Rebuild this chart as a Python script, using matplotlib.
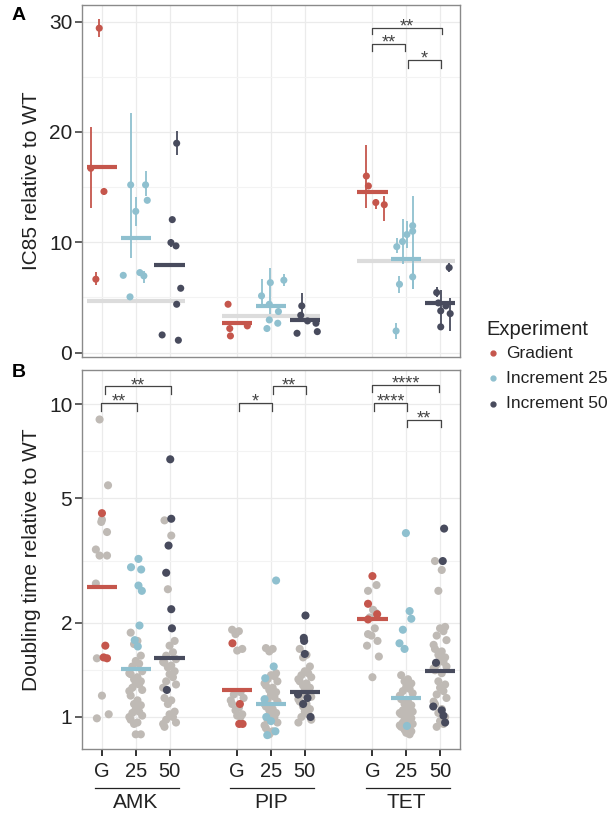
import numpy as np
import matplotlib.pyplot as plt
import matplotlib.transforms as mtransforms
from matplotlib.lines import Line2D

plt.rcParams['font.family'] = ['Liberation Sans', 'DejaVu Sans']

RED = '#c5564c'
BLUE = '#8fc0cf'
DARK = '#484b5d'
GREY_PT = '#bfbab5'
REF = '#dcdcdc'
GRID = '#ebebeb'
TXT = '#222222'

drugs = ['AMK', 'PIP', 'TET']
exp_labels = ['G', '25', '50']
exp_names = ['Gradient', 'Increment 25', 'Increment 50']
positions = [1, 2, 3, 5, 6, 7, 9, 10, 11]
colors = [RED, BLUE, DARK]

# ---------------- panel A : IC85 relative to WT ----------------
amk_g_ic = [29.4, 16.7, 14.6, 6.65]
amk_g_dx = [-0.08, -0.33, 0.06, -0.18]
amk_g_lo = [28.6, 13.1, 14.3, 6.1]
amk_g_hi = [30.2, 20.4, 14.9, 7.3]

amk_25_ic = [15.2, 12.8, 15.2, 13.8, 7.0, 7.25, 6.95, 5.05]
amk_25_dx = [-0.15, 0.0, 0.29, 0.34, -0.37, 0.12, 0.24, -0.17]
amk_25_lo = [8.6, 11.5, 14.2, 13.8, 7.0, 7.0, 6.35, 5.05]
amk_25_hi = [21.75, 14.1, 16.5, 13.8, 7.0, 7.45, 7.4, 5.05]

amk_50_ic = [18.97, 12.05, 9.97, 9.67, 5.83, 4.38, 1.6, 1.12]
amk_50_dx = [0.21, 0.08, 0.04, 0.19, 0.33, 0.21, -0.22, 0.26]
amk_50_lo = [17.9, 12.05, 9.6, 9.67, 5.83, 4.38, 1.6, 1.12]
amk_50_hi = [20.1, 12.05, 10.3, 9.67, 5.83, 4.38, 1.6, 1.12]

pip_g_ic = [4.38, 2.18, 1.51, 2.42]
pip_g_dx = [-0.27, -0.22, -0.2, 0.3]
pip_g_lo = [4.38, 2.18, 1.51, 2.42]
pip_g_hi = [4.38, 2.18, 1.51, 2.42]

pip_25_ic = [5.14, 6.34, 6.56, 4.38, 3.72, 2.96, 2.66, 2.18]
pip_25_dx = [-0.28, -0.02, 0.38, -0.05, 0.22, -0.05, 0.2, -0.12]
pip_25_lo = [4.4, 3.5, 6.04, 4.38, 3.72, 2.96, 2.66, 2.18]
pip_25_hi = [6.65, 7.7, 7.1, 4.38, 3.72, 2.96, 2.66, 2.18]

pip_50_ic = [4.23, 3.38, 2.87, 2.66, 1.75, 1.9]
pip_50_dx = [-0.09, -0.12, 0.08, 0.33, -0.23, 0.37]
pip_50_lo = [2.9, 3.38, 2.87, 2.66, 1.75, 1.9]
pip_50_hi = [5.4, 3.38, 2.87, 2.66, 1.75, 1.9]

tet_g_ic = [16.0, 15.1, 13.6, 13.4]
tet_g_dx = [-0.18, -0.12, 0.1, 0.35]
tet_g_lo = [13.1, 15.1, 13.0, 11.9]
tet_g_hi = [18.8, 15.1, 13.9, 14.2]

tet_25_ic = [9.6, 10.06, 10.7, 11.5, 11.0, 6.86, 6.19, 1.96]
tet_25_dx = [-0.28, -0.11, 0.02, 0.19, 0.19, 0.19, -0.2, -0.3]
tet_25_lo = [9.06, 8.0, 9.5, 5.74, 11.0, 5.74, 5.44, 1.2]
tet_25_hi = [10.4, 12.1, 11.9, 14.2, 11.0, 8.0, 6.95, 2.7]

tet_50_ic = [7.7, 5.44, 4.5, 3.78, 2.33, 4.23, 3.53]
tet_50_dx = [0.27, -0.1, -0.05, 0.02, 0.02, 0.17, 0.3]
tet_50_lo = [7.3, 5.05, 4.5, 2.3, 2.33, 4.23, 1.96]
tet_50_hi = [8.1, 5.9, 4.5, 5.7, 2.33, 4.23, 4.98]

ic_mean = [16.8, 10.42, 7.95, 2.66, 4.23, 2.93, 14.56, 8.52, 4.47]
ic_wt_line = [4.68, 3.32, 8.3]

# ---------------- panel B : doubling time relative to WT ----------------
amk_g_dt = [4.48, 1.69, 1.55, 1.54]
amk_g_ddx = [0.0, 0.1, 0.05, 0.15]
amk_g_bg = [8.93, 5.5, 4.27, 4.2, 3.9, 3.43, 3.28, 3.28, 2.67, 1.54, 1.17, 0.99, 1.02]
amk_g_bgdx = [-0.07, 0.18, 0.0, -0.02, 0.15, -0.18, -0.07, 0.15, -0.18, -0.15, 0.0, -0.15, 0.2]

amk_25_dt = [3.2, 3.01, 2.96, 2.63, 2.53, 1.96, 1.76, 1.68]
amk_25_ddx = [0.08, -0.14, 0.16, 0.08, 0.18, 0.11, -0.03, 0.06]
amk_25_bg = [1.86, 1.75, 1.71, 1.57, 1.51, 1.48, 1.45, 1.40, 1.38, 1.37, 1.34, 1.32,
             1.30, 1.28, 1.27, 1.24, 1.22, 1.21, 1.17, 1.13, 1.10, 1.09, 1.06, 1.04,
             1.03, 1.01, 1.00, 0.98, 0.96, 0.95, 0.88, 0.88]

amk_50_dt = [6.66, 4.3, 3.53, 2.89, 2.21, 1.92, 1.22]
amk_50_ddx = [0.02, 0.05, -0.03, -0.1, 0.05, 0.07, -0.08]
amk_50_bg = [4.25, 3.8, 2.56, 1.75, 1.69, 1.61, 1.57, 1.53, 1.50, 1.49, 1.46, 1.44,
             1.40, 1.37, 1.34, 1.30, 1.27, 1.24, 1.15, 1.13, 1.10, 1.04, 1.02, 1.00,
             0.98, 0.96, 0.95, 0.93]

pip_g_dt = [1.72, 1.10, 0.95, 0.95]
pip_g_ddx = [-0.14, 0.08, 0.06, 0.16]
pip_g_bg = [1.90, 1.88, 1.84, 1.65, 1.63, 1.20, 1.18, 1.15, 1.13, 1.10, 1.07, 1.05,
            1.02, 1.01, 1.00]

pip_25_dt = [2.73, 1.45, 1.33, 1.14, 1.0, 0.90, 0.875, 0.97]
pip_25_ddx = [0.15, 0.08, -0.17, -0.19, -0.14, 0.13, -0.11, 0.0]
pip_25_bg = [1.66, 1.65, 1.62, 1.38, 1.36, 1.35, 1.32, 1.30, 1.28, 1.26, 1.24, 1.22,
             1.20, 1.18, 1.16, 1.14, 1.12, 1.10, 1.08, 1.06, 1.05, 1.03, 1.01, 1.00,
             0.98, 0.96, 0.94, 0.92, 0.90, 0.88]

pip_50_dt = [2.11, 1.79, 1.75, 1.59, 1.18, 1.15, 1.10, 1.0]
pip_50_ddx = [0.02, -0.03, -0.02, 0.0, -0.2, 0.08, -0.05, 0.17]
pip_50_bg = [1.65, 1.58, 1.55, 1.45, 1.40, 1.38, 1.36, 1.34, 1.32, 1.30, 1.28, 1.26,
             1.24, 1.22, 1.20, 1.18, 1.16, 1.14, 1.12, 1.10, 1.08, 1.06, 1.04, 1.02,
             1.00, 0.98, 0.96]

tet_g_dt = [2.82, 2.30, 2.13, 2.05]
tet_g_ddx = [0.0, -0.13, 0.14, -0.13]
tet_g_bg = [2.64, 2.53, 2.2, 2.08, 1.92, 1.84, 1.82, 1.69, 1.56, 1.34, 2.15, 1.75]
tet_g_bgdx = [0.12, -0.13, 0.02, -0.08, 0.07, -0.13, -0.03, -0.16, 0.19, 0.0, 0.1, 0.15]

tet_25_dt = [3.87, 2.18, 2.06, 1.9, 1.72, 1.65, 0.936]
tet_25_ddx = [-0.01, 0.1, 0.15, -0.1, -0.2, -0.05, 0.02]
tet_25_bg = [1.36, 1.32, 1.30, 1.28, 1.25, 1.23, 1.21, 1.19, 1.17, 1.14, 1.12, 1.10,
             1.09, 1.07, 1.06, 1.05, 1.04, 1.03, 1.02, 1.01, 1.00, 0.99, 0.98, 0.97,
             0.96, 0.95, 0.94, 0.93, 0.92, 0.91, 0.90, 0.89, 0.88]

tet_50_dt = [4.0, 3.15, 1.49, 1.08, 1.05, 1.01, 0.96]
tet_50_ddx = [0.12, 0.08, -0.12, -0.2, 0.05, 0.1, 0.15]
tet_50_bg = [3.15, 2.95, 2.53, 1.94, 1.92, 1.88, 1.82, 1.76, 1.70, 1.65, 1.62, 1.58,
             1.55, 1.52, 1.50, 1.47, 1.45, 1.43, 1.41, 1.38, 1.30, 1.27, 1.24, 1.21,
             1.18, 1.15, 1.12, 1.10, 1.06, 1.03, 1.00, 0.97, 0.95, 0.93]

dt_mean = [2.6, 1.42, 1.54, 1.22, 1.10, 1.20, 2.05, 1.15, 1.40]

# significance brackets: (x1, x2, top, drop, label)
sig_a = [(9.0, 11.05, 29.46, 28.85, '**'), (8.98, 9.97, 27.95, 27.34, '**'),
         (10.05, 11.02, 26.5, 25.83, '*')]
sig_b = [(1.08, 3.04, 11.4, 10.8, '**'), (0.98, 2.03, 10.1, 9.52, '**'),
         (5.04, 6.02, 10.1, 9.52, '*'), (6.05, 7.03, 11.4, 10.8, '**'),
         (9.0, 10.97, 11.5, 10.9, '****'), (9.06, 10.03, 10.1, 9.52, '****'),
         (10.03, 11.03, 8.89, 8.43, '**')]

ic_groups = [(amk_g_ic, amk_g_dx, amk_g_lo, amk_g_hi), (amk_25_ic, amk_25_dx, amk_25_lo, amk_25_hi),
             (amk_50_ic, amk_50_dx, amk_50_lo, amk_50_hi), (pip_g_ic, pip_g_dx, pip_g_lo, pip_g_hi),
             (pip_25_ic, pip_25_dx, pip_25_lo, pip_25_hi), (pip_50_ic, pip_50_dx, pip_50_lo, pip_50_hi),
             (tet_g_ic, tet_g_dx, tet_g_lo, tet_g_hi), (tet_25_ic, tet_25_dx, tet_25_lo, tet_25_hi),
             (tet_50_ic, tet_50_dx, tet_50_lo, tet_50_hi)]

dt_groups = [(amk_g_dt, amk_g_ddx, amk_g_bg), (amk_25_dt, amk_25_ddx, amk_25_bg),
             (amk_50_dt, amk_50_ddx, amk_50_bg), (pip_g_dt, pip_g_ddx, pip_g_bg),
             (pip_25_dt, pip_25_ddx, pip_25_bg), (pip_50_dt, pip_50_ddx, pip_50_bg),
             (tet_g_dt, tet_g_ddx, tet_g_bg), (tet_25_dt, tet_25_ddx, tet_25_bg),
             (tet_50_dt, tet_50_ddx, tet_50_bg)]
bg_dx_given = {0: amk_g_bgdx, 6: tet_g_bgdx}

# spread pattern for the dense grey clouds
spread = [-0.15, 0.05, -0.05, 0.15, 0.0, 0.1, -0.1, 0.19, -0.19]

fig = plt.figure(figsize=(6.12, 8.13), dpi=100)
axA = fig.add_axes([82 / 612, 1 - 357 / 813, 378 / 612, 352 / 813])
axB = fig.add_axes([82 / 612, 1 - 749 / 813, 378 / 612, 379 / 813])


def style(ax):
    for s in ax.spines.values():
        s.set_color('#8a8a8a')
        s.set_linewidth(1.0)
    ax.set_xlim(0.41, 11.59)
    for p in positions:
        ax.axvline(p, color=GRID, lw=0.9, zorder=0)
    ax.tick_params(axis='y', colors='#333333', labelcolor=TXT, labelsize=15,
                   length=5, width=1.1, pad=2)


def bracket(ax, x1, x2, top, drop, label, fs):
    ax.plot([x1, x1, x2, x2], [drop, top, top, drop], color='#444444', lw=0.9,
            zorder=5, clip_on=False)
    ax.annotate(label, ((x1 + x2) / 2, top), xytext=(0, 0.5), textcoords='offset points',
                ha='center', va='center', fontsize=fs, color='#444444', zorder=5)


# ---- panel A
style(axA)
axA.set_ylim(-0.4, 31.5)
for y in [0, 10, 20, 30]:
    axA.axhline(y, color=GRID, lw=0.9, zorder=0)
for y in [5, 15, 25]:
    axA.axhline(y, color='#f3f3f3', lw=0.8, zorder=0)
for k, c in enumerate([2, 6, 10]):
    axA.plot([c - 1.45, c + 1.45], [ic_wt_line[k]] * 2, color=REF, lw=3, zorder=1,
             solid_capstyle='butt')
for i, (vals, dx, lo, hi) in enumerate(ic_groups):
    col = colors[i % 3]
    x = positions[i] + np.array(dx)
    axA.vlines(x, lo, hi, color=col, lw=1.3, zorder=2)
    axA.scatter(x, vals, s=26, color=col, edgecolor='none', zorder=3)
    axA.plot([positions[i] - 0.45, positions[i] + 0.45], [ic_mean[i]] * 2, color=col,
             lw=3, zorder=4, solid_capstyle='butt')
for b in sig_a:
    bracket(axA, *b, fs=13)
axA.set_xticks([])
axA.set_yticks([0, 10, 20, 30])
axA.set_ylabel('IC85 relative to WT', fontsize=15, color=TXT, labelpad=6)

# ---- panel B
style(axB)
axB.set_yscale('log')
axB.set_ylim(0.79, 12.85)
for y in [1, 2, 5, 10]:
    axB.axhline(y, color=GRID, lw=0.9, zorder=0)
for y in [np.sqrt(2), np.sqrt(10), np.sqrt(50)]:
    axB.axhline(y, color='#f3f3f3', lw=0.8, zorder=0)
for i, (vals, dx, bg) in enumerate(dt_groups):
    col = colors[i % 3]
    if i in bg_dx_given:
        bdx = np.array(bg_dx_given[i])
    else:
        bdx = np.array([spread[j % len(spread)] for j in range(len(bg))])
    axB.scatter(positions[i] + bdx, bg, s=34, color=GREY_PT, edgecolor='none', zorder=2)
    axB.scatter(positions[i] + np.array(dx), vals, s=34, color=col, edgecolor='none',
                zorder=3)
    axB.plot([positions[i] - 0.45, positions[i] + 0.45], [dt_mean[i]] * 2, color=col,
             lw=3, zorder=4, solid_capstyle='butt')
for b in sig_b:
    bracket(axB, *b, fs=13)
axB.set_yticks([1, 2, 5, 10])
axB.set_yticklabels(['1', '2', '5', '10'])
axB.yaxis.set_minor_locator(plt.NullLocator())
axB.set_xticks(positions)
axB.set_xticklabels(exp_labels * 3)
axB.tick_params(axis='x', colors='#222222', labelcolor=TXT, labelsize=14.5,
                length=5, width=1.3, pad=4)
axB.set_ylabel('Doubling time relative to WT', fontsize=15, color=TXT, labelpad=6)

trans = mtransforms.blended_transform_factory(axB.transData, axB.transAxes)
for k, drug in enumerate(drugs):
    c = positions[3 * k + 1]
    axB.plot([c - 1.2, c + 1.28], [-0.103, -0.103], transform=trans, color='#222222',
             lw=0.9, clip_on=False)
    axB.text(c, -0.142, drug, transform=trans, ha='center', va='center',
             fontsize=15, color=TXT)

# panel letters
fig.text(12 / 612, 1 - 15 / 813, 'A', fontsize=14, fontweight='bold', va='center')
fig.text(12 / 612, 1 - 372 / 813, 'B', fontsize=14, fontweight='bold', va='center')

# legend
fig.text(486 / 612, 1 - 329 / 813, 'Experiment', fontsize=14.5, color=TXT, va='center')
for k, name in enumerate(exp_names):
    yy = 1 - (353 + 25.5 * k) / 813
    fig.add_artist(Line2D([493 / 612], [yy], transform=fig.transFigure, marker='o',
                          markersize=3.5, color=colors[k], linestyle='none'))
    fig.text(506 / 612, yy, name, fontsize=12.5, color=TXT, va='center')

fig.savefig('out.png', dpi=100)
